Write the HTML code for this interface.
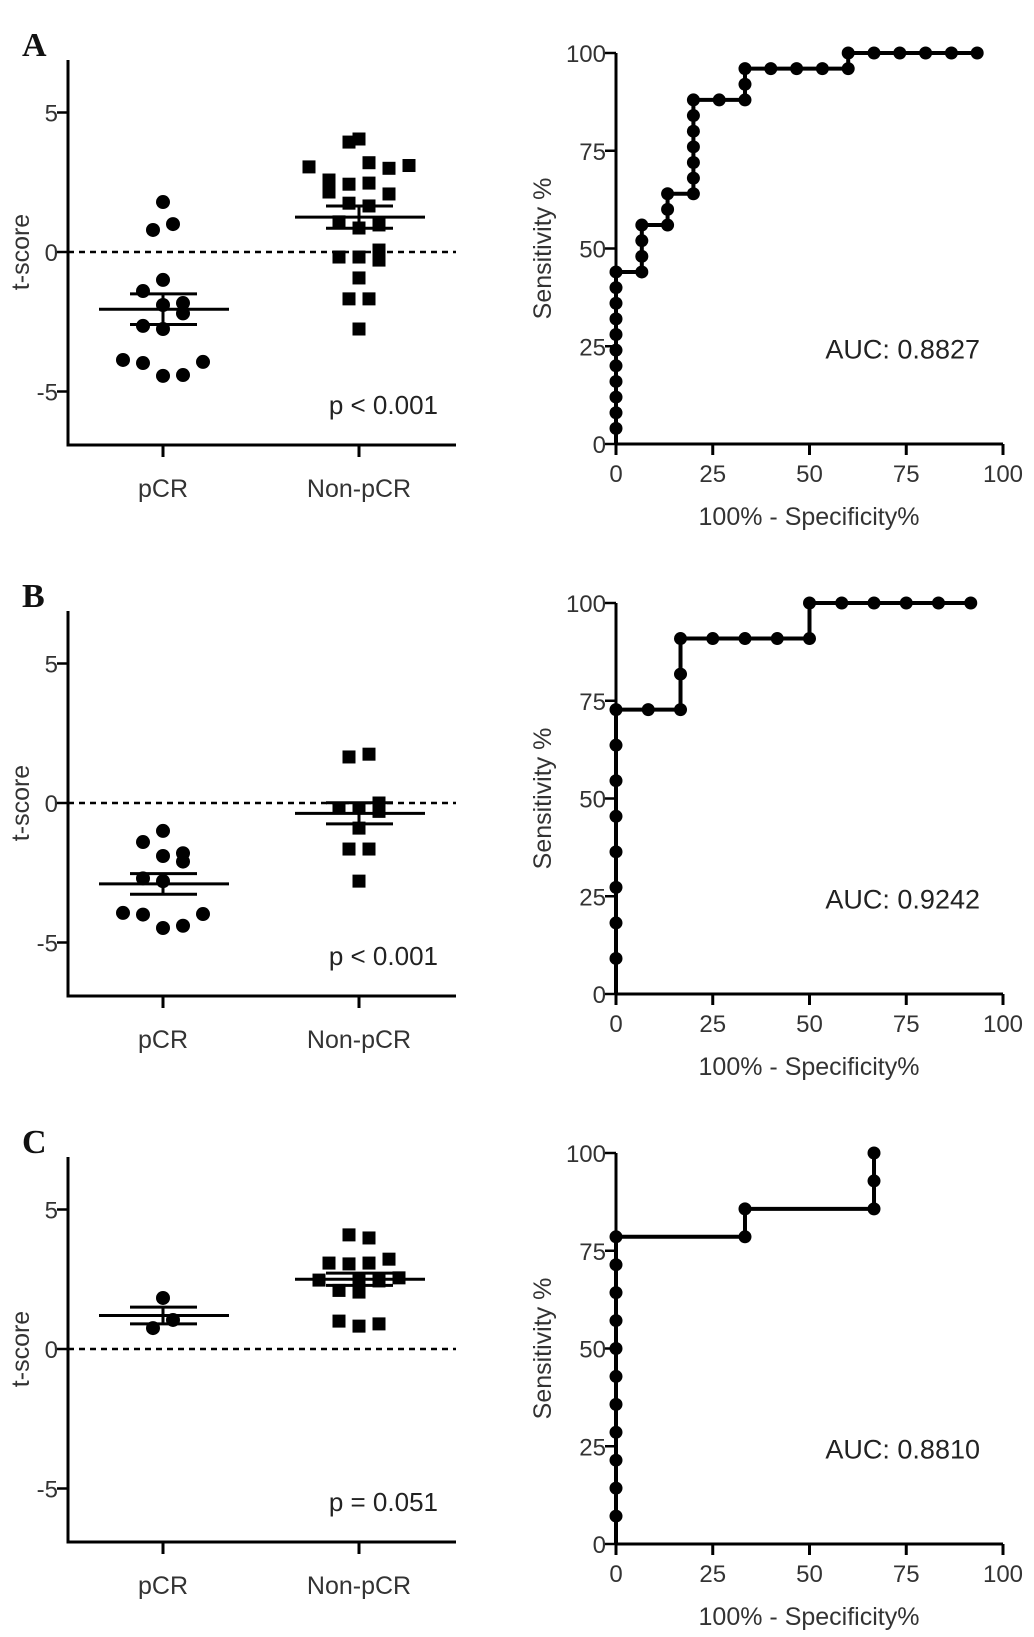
<!DOCTYPE html>
<html><head><meta charset="utf-8">
<style>
html,body{margin:0;padding:0;background:#fff;}
svg{display:block;font-family:"Liberation Sans",sans-serif;}
</style></head>
<body>
<svg id="fig" width="1034" height="1637" viewBox="0 0 1034 1637" xmlns="http://www.w3.org/2000/svg"></svg>
<script>
// ---------- scatter data (t-scores) ----------
const scatterCats = ["pCR", "Non-pCR"];
const A_pcr = [1.79, 0.79, 1.0, -1.0, -1.4, -1.9, -1.83, -2.2, -2.65, -2.76, -3.87, -3.98, -3.94, -4.44, -4.41];
const A_pcrCol = [0, -1, 1, 0, -2, 0, 2, 2, -2, 0, -4, -2, 4, 0, 2];
const A_non = [3.94, 4.05, 3.05, 3.2, 3.0, 3.1, 2.58, 2.15, 2.43, 2.47, 2.08, 1.75, 1.65, 1.08, 0.86, 0.97, -0.18, -0.18, 0.07, -0.29, -0.93, -1.68, -1.68, -2.76];
const A_nonCol = [-1, 0, -5, 1, 3, 5, -3, -3, -1, 1, 3, -1, 1, -2, 0, 2, -2, 0, 2, 2, 0, -1, 1, 0];
const A_stats = [[-2.05, 0.55], [1.25, 0.4]];
const B_pcr = [-1.0, -1.4, -1.9, -1.8, -2.1, -2.7, -2.8, -3.94, -4.0, -3.98, -4.48, -4.4];
const B_pcrCol = [0, -2, 0, 2, 2, -2, 0, -4, -2, 4, 0, 2];
const B_non = [1.65, 1.75, -0.18, -0.18, 0.0, -0.3, -0.9, -1.65, -1.65, -2.8];
const B_nonCol = [-1, 1, -2, 0, 2, 2, 0, -1, 1, 0];
const B_stats = [[-2.9, 0.37], [-0.37, 0.38]];
const C_pcr = [1.83, 0.75, 1.04];
const C_pcrCol = [0, -1, 1];
const C_non = [4.09, 3.98, 3.08, 3.05, 3.08, 3.22, 2.47, 2.55, 2.5, 2.44, 2.1, 2.04, 1.0, 0.82, 0.9];
const C_nonCol = [-1, 1, -3, -1, 1, 3, -4, 4, 0, 2, -2, 0, -2, 0, 2];
const C_stats = [[1.2, 0.3], [2.5, 0.22]];
const yTicks = [5, 0, -5];
const yTickLabels = ["5", "0", "-5"];
const pTexts = ["p < 0.001", "p < 0.001", "p = 0.051"];
const panelLetters = ["A", "B", "C"];

// ---------- ROC data ----------
const A_fpr = [0,0,0,0,0,0,0,0,0,0,0,0, 6.67,6.67,6.67,6.67, 13.33,13.33,13.33, 20,20,20,20,20,20,20, 26.67, 33.33,33.33,33.33, 40,46.67,53.33,60,60, 66.67,73.33,80,86.67,93.33];
const A_tpr = [0,4,8,12,16,20,24,28,32,36,40,44, 44,48,52,56, 56,60,64, 64,68,72,76,80,84,88, 88, 88,92,96, 96,96,96,96,100, 100,100,100,100,100];
const B_fpr = [0,0,0,0,0,0,0,0,0, 8.33, 16.67,16.67,16.67, 25,33.33,41.67, 50,50, 58.33,66.67,75,83.33,91.67];
const B_tpr = [0,9.09,18.18,27.27,36.36,45.45,54.55,63.64,72.73, 72.73, 72.73,81.82,90.91, 90.91,90.91,90.91, 90.91,100, 100,100,100,100,100];
const C_fpr = [0,0,0,0,0,0,0,0,0,0,0,0, 33.33,33.33, 66.67,66.67,66.67];
const C_tpr = [0,7.14,14.29,21.43,28.57,35.71,42.86,50,57.14,64.29,71.43,78.57, 78.57,85.71, 85.71,92.86,100];
const rocTicks = [0, 25, 50, 75, 100];
const aucTexts = ["AUC: 0.8827", "AUC: 0.9242", "AUC: 0.8810"];

const NS = "http://www.w3.org/2000/svg";
const svg = document.getElementById("fig");
function mk(tag, attrs, parent, text) {
  const e = document.createElementNS(NS, tag);
  for (const k in attrs) e.setAttribute(k, attrs[k]);
  if (text !== undefined) e.textContent = text;
  (parent || svg).appendChild(e);
  return e;
}

function scatterPanel(idx, zeroY, pcr, pcrCol, non, nonCol, stats) {
  const g = mk("g", {});
  
  
  const unit = 27.9;
  const y = v => zeroY - v * unit;
  const axX = 68, right = 456, top = zeroY - 192, bot = zeroY + 193;
  const cx = [163, 359];
  const letter = mk("text", {x: 22, y: top - 4, "font-family": "Liberation Serif,serif", "font-weight": "bold", "font-size": 34, fill: "#111"}, g, panelLetters[idx]);
  
  
  const axes = mk("path", {d: `M${axX},${top} V${bot} H${right}`, stroke: "#000", "stroke-width": 3, fill: "none"}, g);
  
  
  yTicks.forEach((t, i) => {
    mk("line", {x1: axX - 11, x2: axX, y1: y(t), y2: y(t), stroke: "#000", "stroke-width": 2.5}, g);
    const tl = mk("text", {x: axX - 10, y: y(t) + 9, "text-anchor": "end", "font-size": 24, fill: "#333"}, g, yTickLabels[i]);
    
    
  });
  const yt = mk("text", {x: 0, y: 0, transform: `translate(29,${zeroY}) rotate(-90)`, "text-anchor": "middle", "font-size": 25, fill: "#333"}, g, "t-score");
  
  
  scatterCats.forEach((c, i) => {
    mk("line", {x1: cx[i], x2: cx[i], y1: bot, y2: bot + 12, stroke: "#000", "stroke-width": 3}, g);
    const xl = mk("text", {x: cx[i], y: bot + 52, "text-anchor": "middle", "font-size": 25, fill: "#333"}, g, c);
    
    
  });
  const zl = mk("line", {x1: axX, x2: right, y1: y(0), y2: y(0), stroke: "#000", "stroke-width": 2.5, "stroke-dasharray": "6,5"}, g);
  
  
  pcr.forEach((v, i) => {
    const c = mk("circle", {cx: cx[0] + pcrCol[i] * 10, cy: y(v), r: 7, fill: "#000"}, g);
    
    
  });
  non.forEach((v, i) => {
    const r = mk("rect", {x: cx[1] + nonCol[i] * 10 - 6.5, y: y(v) - 6.5, width: 13, height: 13, fill: "#000"}, g);
    
    
  });
  stats.forEach((s, i) => {
    const m = s[0], e = s[1];
    const sg = mk("g", {stroke: "#000", "stroke-width": 3}, g);
    
    
    mk("line", {x1: cx[i] - 64, x2: cx[i] + 66, y1: y(m), y2: y(m)}, sg);
    mk("line", {x1: cx[i] - 33, x2: cx[i] + 34, y1: y(m + e), y2: y(m + e)}, sg);
    mk("line", {x1: cx[i] - 33, x2: cx[i] + 34, y1: y(m - e), y2: y(m - e)}, sg);
    mk("line", {x1: cx[i], x2: cx[i], y1: y(m + e), y2: y(m - e)}, sg);
  });
  const pt = mk("text", {x: 438, y: zeroY + 162, "text-anchor": "end", "font-size": 26, fill: "#222"}, g, pTexts[idx]);
  
  
}

function rocPanel(idx, y0, fpr, tpr) {
  const g = mk("g", {});
  
  
  const x0 = 616, x100 = 1003, h = 391;
  const X = v => x0 + (x100 - x0) * v / 100;
  const Y = v => y0 - h * v / 100;
  const ax = mk("path", {d: `M${x0},${Y(100)} V${y0} H${x100}`, stroke: "#000", "stroke-width": 3, fill: "none"}, g);
  
  
  rocTicks.forEach(t => {
    mk("line", {x1: x0 - 11, x2: x0, y1: Y(t), y2: Y(t), stroke: "#000", "stroke-width": 2.5}, g);
    const yl = mk("text", {x: x0 - 10, y: Y(t) + 9, "text-anchor": "end", "font-size": 24, fill: "#333"}, g, String(t));
    
    
    mk("line", {x1: X(t), x2: X(t), y1: y0, y2: y0 + 11, stroke: "#000", "stroke-width": 3}, g);
    const xl = mk("text", {x: X(t), y: y0 + 38, "text-anchor": "middle", "font-size": 24, fill: "#333"}, g, String(t));
    
    
  });
  const yt = mk("text", {x: 0, y: 0, transform: `translate(551,${Y(50)}) rotate(-90)`, "text-anchor": "middle", "font-size": 25, fill: "#333"}, g, "Sensitivity %");
  
  
  const xt = mk("text", {x: 809, y: y0 + 81, "text-anchor": "middle", "font-size": 25, fill: "#333"}, g, "100% - Specificity%");
  
  
  let d = "";
  fpr.forEach((f, i) => { d += (i ? "L" : "M") + X(f) + "," + Y(tpr[i]); });
  const line = mk("path", {d: d, stroke: "#000", "stroke-width": 4, fill: "none", "stroke-linejoin": "miter"}, g);
  
  
  fpr.forEach((f, i) => {
    if (i === 0) return;
    const c = mk("circle", {cx: X(f), cy: Y(tpr[i]), r: 6.5, fill: "#000"}, g);
    
    
  });
  const auc = mk("text", {x: 980, y: Y(25) + 12, "text-anchor": "end", "font-size": 27, fill: "#222"}, g, aucTexts[idx]);
  
  
}

scatterPanel(0, 252, A_pcr, A_pcrCol, A_non, A_nonCol, A_stats);
scatterPanel(1, 803, B_pcr, B_pcrCol, B_non, B_nonCol, B_stats);
scatterPanel(2, 1349, C_pcr, C_pcrCol, C_non, C_nonCol, C_stats);
rocPanel(0, 444, A_fpr, A_tpr);
rocPanel(1, 994, B_fpr, B_tpr);
rocPanel(2, 1544, C_fpr, C_tpr);
</script>
</body></html>
